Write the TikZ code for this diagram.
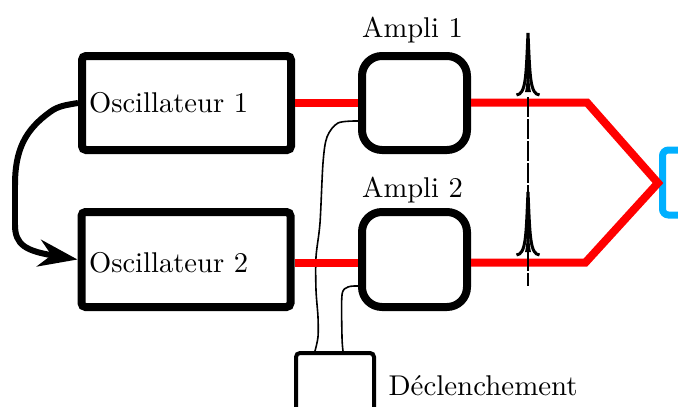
\documentclass[tikz,border=0pt]{standalone}
\usetikzlibrary{arrows.meta}
\def\px{0.35pt}
\definecolor{detblue}{RGB}{0,176,255}
\tikzset{
	oscbox/.style={draw=black, line width=8*\px, rounded corners=4*\px, minimum width=209*\px, minimum height=94*\px, inner sep=0pt},
	ampbox/.style={draw=black, line width=8*\px, rounded corners=20*\px, minimum width=105*\px, minimum height=94*\px, inner sep=0pt},
	trigbox/.style={draw=black, line width=4*\px, rounded corners=4*\px, minimum width=78*\px, minimum height=90*\px, inner sep=0pt},
	detbox/.style={draw=detblue, line width=7*\px, rounded corners=6*\px, minimum width=40*\px, minimum height=65*\px, inner sep=0pt},
	beam/.style={draw=red, line width=8*\px, line join=miter},
	trigline/.style={draw=black, line width=1.6*\px},
	pulse/.style={draw=black, line width=3*\px}
}
\begin{document}
\begin{tikzpicture}[x=\px,y=-\px]
\clip (0,0) rectangle (678,407);
\node[oscbox](osc1) at (186.5,103) {};
\node[oscbox, minimum height=95*\px](osc2) at (186,259.5) {};
\node[ampbox](amp1) at (414.5,103) {};
\node[ampbox, minimum height=95*\px](amp2) at (414.5,259.5) {};
\node[trigbox, anchor=north west](trig) at (294,351) {};
\node[detbox, anchor=west](det) at (659,182.5) {};
\node[anchor=west, inner sep=0pt](osc1label) at (88.5,103) {Oscillateur 1};
\node[anchor=west, inner sep=0pt](osc2label) at (88.5,263) {Oscillateur 2};
\node(amp1label) at (412.5,30) {Ampli 1};
\node(amp2label) at (412.5,190) {Ampli 2};
\node[anchor=west, inner sep=0pt, xscale=1.012](triglabel) at (388,386) {Déclenchement};
\coordinate (trigA) at (358,121);
\coordinate (trigB) at (358,286);
\coordinate (trigAend) at (315,351);
\coordinate (trigBend) at (343,351);
\coordinate (pulsetop) at (528,97);
\coordinate (pulsebot) at (528,286);
\coordinate (beamup) at (587,102.5);
\coordinate (beamdown) at (585.5,262.5);
\coordinate (beamtip) at (658,183);
\draw[trigline] plot[smooth, tension=0.5] coordinates {(trigA) (338,123) (327,137) (323,163) (320,223) (316,257) (316,290) (318,317) (318,337) (trigAend)};
\draw[trigline] plot[smooth, tension=0.5] coordinates {(trigB) (348,287) (342,295) (342,337) (trigBend)};
\draw[beam] (osc1.east |- beamup) -- (amp1.west |- beamup);
\draw[beam] (osc2.east |- beamdown) -- (amp2.west |- beamdown);
\draw[beam] (amp1.east |- beamup) -- (beamup) -- (beamtip) -- (beamdown) -- (amp2.east |- beamdown);
\foreach \py/\ph in {97/64,257/65}{
	\draw[pulse] (516.5,\py-2) .. controls (526,\py-3) and (526,\py-20) .. (528,\py-\ph) .. controls (530,\py-20) and (530,\py-3) .. (539.5,\py-2);
	\fill[black] (528,\py-\ph) .. controls (527,\py-30) and (527,\py-12) .. (525,\py-5) -- (531,\py-5) .. controls (529,\py-12) and (529,\py-30) .. (528,\py-\ph);
}
\draw[line width=2.4*\px, dash pattern=on 20*\px off 2*\px] (pulsetop) -- (pulsebot);
\draw[line width=6*\px, -{Stealth[length=39*\px, width=27*\px]}] (osc1.west) .. controls (66,105) and (58,106) .. (50,112) .. controls (25,130) and (15,150) .. (15,185) -- (15,225) .. controls (15,245) and (26,251) .. (osc2.west);
\end{tikzpicture}
\end{document}
